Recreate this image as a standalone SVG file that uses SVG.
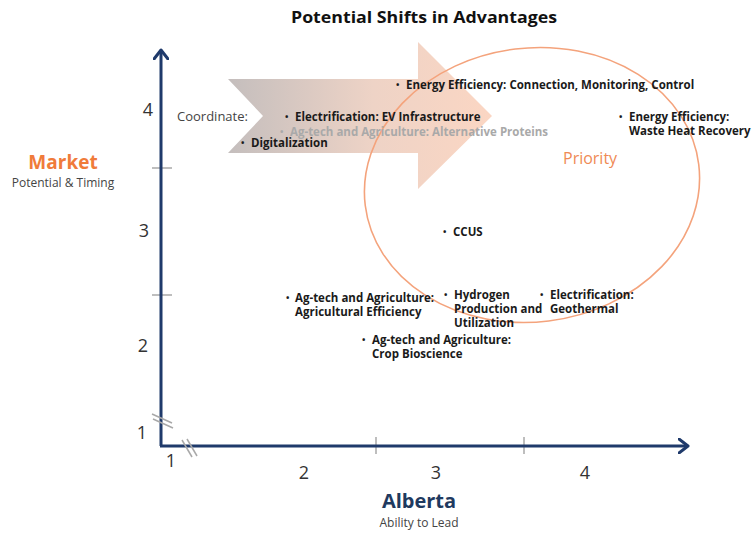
<svg xmlns="http://www.w3.org/2000/svg" width="753" height="533" viewBox="0 0 753 533">
<defs>
<linearGradient id="g" gradientUnits="userSpaceOnUse" x1="228" y1="0" x2="492" y2="0">
<stop offset="0" stop-color="#c4bebd"/>
<stop offset="0.55" stop-color="#eed3c6"/>
<stop offset="1" stop-color="#fbd6c3"/>
</linearGradient>
<marker id="ah" viewBox="0 0 12 16" refX="10" refY="8" markerWidth="12" markerHeight="16" markerUnits="userSpaceOnUse" orient="auto">
<path d="M1,1 L10,8 L1,15" fill="none" stroke="#1f3a6b" stroke-width="3" stroke-linecap="round" stroke-linejoin="round"/>
</marker>
<style>
text{font-family:"Open Sans","Liberation Sans",sans-serif}
.num{font-size:18px;fill:#333}
.it{font-size:11.5px;font-weight:700;fill:#1a1a1a}
.gr{font-size:11.5px;font-weight:700;fill:#a9a9a9}
.b{font-size:9px;font-weight:700;fill:#1a1a1a}
.bg{font-size:9px;font-weight:700;fill:#a9a9a9}
.tick{stroke:#a8a8a8;stroke-width:1.5}
.axis{stroke:#1f3a6b;stroke-width:3;fill:none}
</style>
</defs>
<rect width="753" height="533" fill="#fff"/>
<text x="424" y="23" text-anchor="middle" font-size="16" font-weight="700" fill="#111" textLength="266" lengthAdjust="spacingAndGlyphs">Potential Shifts in Advantages</text>

<g id="shift-arrow">
<polygon points="228,79 418,79 418,42 492,116 418,189 418,153 228,153 263,116" fill="url(#g)"/>
</g>
<g id="priority">
<ellipse cx="532" cy="185" rx="168" ry="137" transform="rotate(-7 532 185)" fill="none" stroke="#f4a37c" stroke-width="1.6"/>
<text x="563" y="164" font-size="16" fill="#ef8a55">Priority</text>
</g>

<g id="connectors">
<line class="tick" x1="152" y1="168" x2="172" y2="168"/>
<line class="tick" x1="152" y1="295" x2="172" y2="295"/>
<line class="tick" x1="376" y1="437" x2="376" y2="454"/>
<line class="tick" x1="524" y1="437" x2="524" y2="454"/>
<path class="axis" d="M161,446 L161,50" marker-end="url(#ah)"/>
<path class="axis" d="M160,446 L688,446" marker-end="url(#ah)"/>
<line x1="152" y1="414" x2="172" y2="423" class="tick"/>
<line x1="153" y1="419" x2="173" y2="428" class="tick"/>
<line x1="182" y1="440" x2="192" y2="457" class="tick"/>
<line x1="187" y1="439" x2="197" y2="456" class="tick"/>
</g>

<g id="y-labels">
<text class="num" x="148" y="116" text-anchor="middle">4</text>
<text class="num" x="144" y="237" text-anchor="middle">3</text>
<text class="num" x="143" y="352" text-anchor="middle">2</text>
<text class="num" x="142" y="439" text-anchor="middle">1</text>
</g>
<g id="x-labels">
<text class="num" x="171" y="467" text-anchor="middle">1</text>
<text class="num" x="304" y="479" text-anchor="middle">2</text>
<text class="num" x="436" y="479" text-anchor="middle">3</text>
<text class="num" x="585" y="479" text-anchor="middle">4</text>
</g>

<g id="market">
<text x="63" y="169" text-anchor="middle" font-size="19" font-weight="700" fill="#f07b3a">Market</text>
<text x="63" y="187" text-anchor="middle" font-size="12" fill="#444">Potential &amp; Timing</text>
</g>
<g id="alberta">
<text x="419" y="508" text-anchor="middle" font-size="20" font-weight="700" fill="#1f3a5f">Alberta</text>
<text x="419" y="527" text-anchor="middle" font-size="12" fill="#444">Ability to Lead</text>
</g>

<g id="coordinate"><text x="177" y="121" font-size="13" fill="#444">Coordinate:</text></g>

<g id="ee-connection"><text class="b" x="396" y="88">•</text><text class="it" x="406" y="89">Energy Efficiency: Connection, Monitoring, Control</text></g>
<g id="ev"><text class="b" x="285" y="120">•</text><text class="it" x="295" y="121">Electrification: EV Infrastructure</text></g>
<g id="alt-proteins"><text class="bg" x="280" y="135">•</text><text class="gr" x="290" y="136">Ag-tech and Agriculture: Alternative Proteins</text></g>
<g id="digitalization"><text class="b" x="241" y="146">•</text><text class="it" x="251" y="147">Digitalization</text></g>
<g id="ee-waste"><text class="b" x="619" y="120">•</text><text class="it" x="629" y="121">Energy Efficiency:<tspan x="629" dy="14">Waste Heat Recovery</tspan></text></g>
<g id="ccus"><text class="b" x="443" y="235">•</text><text class="it" x="453" y="236">CCUS</text></g>
<g id="ag-eff"><text class="b" x="286" y="301">•</text><text class="it" x="295" y="302">Ag-tech and Agriculture:<tspan x="295" dy="14">Agricultural Efficiency</tspan></text></g>
<g id="hydrogen"><text class="b" x="444" y="298">•</text><text class="it" x="454" y="299">Hydrogen<tspan x="454" dy="14">Production and</tspan><tspan x="454" dy="14">Utilization</tspan></text></g>
<g id="geothermal"><text class="b" x="540" y="298">•</text><text class="it" x="550" y="299">Electrification:<tspan x="550" dy="14">Geothermal</tspan></text></g>
<g id="crop"><text class="b" x="362" y="343">•</text><text class="it" x="372" y="344">Ag-tech and Agriculture:<tspan x="372" dy="14">Crop Bioscience</tspan></text></g>
</svg>
